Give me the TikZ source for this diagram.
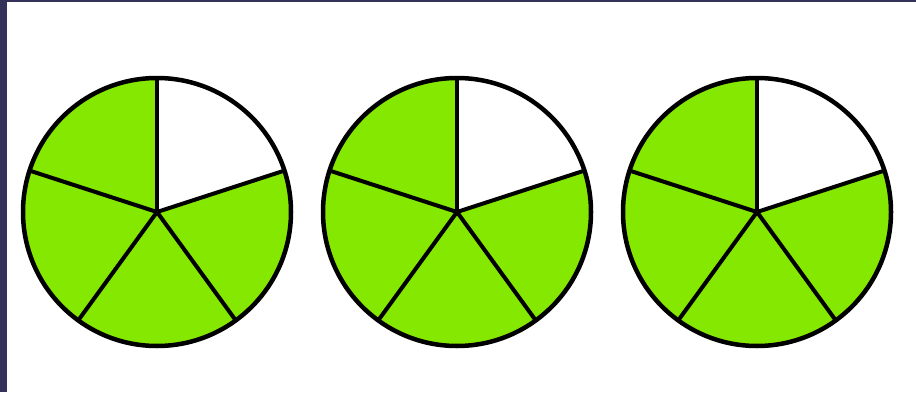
\documentclass[tikz,border=0pt]{standalone}
\definecolor{navy}{RGB}{52,50,90}
\definecolor{lime}{RGB}{132,232,0}
\tikzset{
  sector/.style={fill=lime},
  spoke/.style={draw=black,line width=4pt,line cap=round},
  rim/.style={draw=black,line width=4.5pt},
}
\begin{document}
\begin{tikzpicture}[x=1pt,y=1pt]
\useasboundingbox (0,0) rectangle (916,392);
\fill[white] (0,0) rectangle (916,392);
\fill[navy] (0,0) rectangle (7,392);
\fill[navy] (0,390) rectangle (916,392);
\foreach \cx/\n in {157/a,457/b,757/c}{
  \coordinate (\n) at (\cx,180);
  \fill[lime] (\n) -- ++(18:134) arc (18:-270:134) -- cycle;
  \foreach \ang in {90,18,-54,-126,162}{
    \draw[spoke] (\n) -- ++(\ang:134);
  }
  \draw[rim] (\n) circle (134);
}
\end{tikzpicture}
\end{document}
